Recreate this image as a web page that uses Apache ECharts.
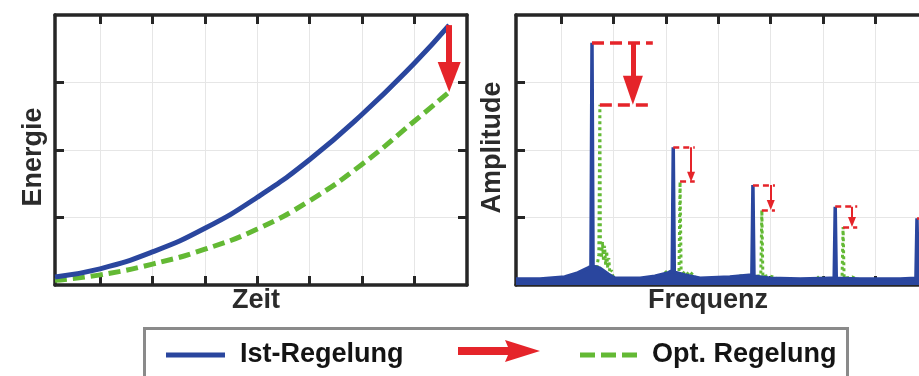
<!DOCTYPE html>
<html>
<head>
<meta charset="utf-8">
<script src="https://cdn.jsdelivr.net/npm/echarts@6/dist/echarts.min.js"></script>
<style>html,body{margin:0;padding:0;background:#fff}#c{width:919px;height:376px}</style>
</head>
<body>
<div id="c"></div>
<script>
// ---------- data ----------
// Left panel: Energie over Zeit
const zeit = [0.14, 1, 2, 3, 4, 5, 6, 7, 7.66];
const energieIst = [0.12, 0.24, 0.49, 0.84, 1.30, 1.86, 2.53, 3.29, 3.85];
const energieOpt = [0.07, 0.15, 0.31, 0.53, 0.83, 1.25, 1.79, 2.43, 2.86];

// Right panel: Amplitude spectrum [Frequenz, Amplitude]
const spektrumIst = [
  [0.14,0.09],[0.60,0.09],[1.07,0.12],[1.32,0.18],[1.51,0.25],[1.57,0.28],[1.59,3.59],[1.61,0.28],
  [1.74,0.25],[1.90,0.16],[2.03,0.10],[2.51,0.10],[2.79,0.13],[3.04,0.18],[3.12,0.21],[3.14,2.04],
  [3.16,0.19],[3.36,0.15],[3.65,0.10],[4.22,0.12],[4.64,0.15],[4.66,1.48],[4.68,0.13],[4.99,0.10],
  [5.56,0.09],[6.13,0.10],[6.21,0.10],[6.23,1.16],[6.25,0.10],[6.70,0.09],[7.47,0.09],[7.77,0.10],
  [7.79,0.99],[7.81,0.10],[8.00,0.09]
];
const spektrumOpt = [
  [0.14,0.07],[1.60,0.07],[1.66,0.12],[1.69,0.30],[1.72,0.45],[1.74,2.67],[1.75,0.60],[1.77,0.40],
  [1.79,0.64],[1.81,0.35],[1.83,0.58],[1.85,0.30],[1.87,0.50],[1.89,0.25],[1.91,0.40],[1.93,0.18],
  [1.96,0.22],[2.01,0.07],[2.85,0.07],[2.95,0.16],[3.05,0.22],
  [3.13,0.16],[3.25,0.20],[3.27,1.53],[3.29,0.22],[3.38,0.14],[3.45,0.20],[3.55,0.12],[3.70,0.07],
  [4.35,0.07],[4.42,0.14],[4.50,0.10],[4.81,0.14],[4.83,1.11],[4.85,0.12],[4.95,0.14],[5.05,0.12],
  [5.20,0.07],[5.85,0.07],[5.93,0.13],[6.05,0.07],[6.36,0.10],[6.38,0.86],[6.40,0.10],[6.55,0.12],
  [6.70,0.07],[7.91,0.07],[7.93,0.78],[7.95,0.07],[8.00,0.07]
];
// Peak annotations
const peakIstF = [1.59, 3.14, 4.66, 6.23, 7.79];
const peakIstA = [3.59, 2.04, 1.48, 1.16, 0.99];
const peakOptF = [1.74, 3.27, 4.83, 6.38, 7.93];
const peakOptA = [2.67, 1.53, 1.11, 0.86, 0.78];
const bracketEndF = [2.75, 3.55, 5.08, 6.65, 8.00];
const arrowF = [2.37, 3.48, 5.00, 6.55];

const xTicks = [1, 2, 3, 4, 5, 6, 7];
const yTicks = [1, 2, 3];
const xNames = ['Zeit', 'Frequenz'];
const yNames = ['Energie', 'Amplitude'];
const legendNames = ['Ist-Regelung', 'Pfeil', 'Opt. Regelung'];

// ---------- styling ----------
const FONT = '"Liberation Sans", Arial, Helvetica, sans-serif';
const INK = '#262626';
const BLUE = '#2a469e';
const GREEN = '#63b934';
const RED = '#e5242a';
const PX_PER_UNIT = 270 / 4;

const chart = echarts.init(document.getElementById('c'), null, {renderer: 'canvas'});

const grids = [
  {left: 55, top: 15, width: 412, height: 270, outerBoundsMode: 'none', containLabel: false},
  {left: 516, top: 15, width: 412, height: 270, outerBoundsMode: 'none', containLabel: false}
];
const nameStyle = (pad) => ({fontFamily: FONT, fontSize: 27, fontWeight: 'bold', color: '#2b2b2b', padding: pad});
const lineAx = {show: true, onZero: false, lineStyle: {color: INK, width: 3.5}};
const tickAx = (vals) => ({show: true, inside: true, length: 9, customValues: vals, lineStyle: {color: INK, width: 3}});

const xAxis = [], yAxis = [];
[0, 1].forEach(g => {
  xAxis.push({type: 'value', gridIndex: g, min: 0.14, max: 8, position: 'bottom',
    name: xNames[g], nameLocation: 'middle', nameGap: 2,
    nameTextStyle: nameStyle(g === 0 ? [0, 10, 0, 0] : [0, 28, 0, 0]),
    axisLine: lineAx, axisTick: tickAx(xTicks), axisLabel: {show: false},
    splitLine: {show: true, lineStyle: {color: '#e6e6e6', width: 1}}});
  xAxis.push({type: 'value', gridIndex: g, min: 0.14, max: 8, position: 'top',
    axisLine: lineAx, axisTick: tickAx(xTicks), axisLabel: {show: false}, splitLine: {show: false}});
  yAxis.push({type: 'value', gridIndex: g, min: 0, max: 4, position: 'left',
    name: yNames[g], nameLocation: 'middle', nameGap: g === 0 ? 8 : 10,
    nameTextStyle: nameStyle(g === 0 ? [0, 14, 0, 0] : [0, 0, 0, 5]),
    axisLine: lineAx, axisTick: tickAx(yTicks), axisLabel: {show: false},
    splitLine: {show: true, lineStyle: {color: '#e6e6e6', width: 1}}});
  yAxis.push({type: 'value', gridIndex: g, min: 0, max: 4, position: 'right',
    axisLine: lineAx, axisTick: tickAx(yTicks), axisLabel: {show: false}, splitLine: {show: false}});
});

// arrow helper: shaft from a to b (vertical), head tip exactly at b
function arrowItem(x, yFrom, yTo, width, headW, headL) {
  return [
    {coord: [x, yFrom], symbol: 'none', lineStyle: {color: RED, width: width, type: 'solid'}},
    {coord: [x, yTo + headL / 2 / PX_PER_UNIT], symbol: 'triangle', symbolSize: [headW, headL]}
  ];
}
function dashItem(x1, x2, y, width, dash) {
  return [
    {coord: [x1, y], symbol: 'none', lineStyle: {color: RED, width: width, type: dash}},
    {coord: [x2, y], symbol: 'none'}
  ];
}

const last = zeit.length - 1;
const leftArrow = [arrowItem(zeit[last], energieIst[last], energieOpt[last], 6, 23, 30)];

const bigMarks = [
  dashItem(peakIstF[0], bracketEndF[0], peakIstA[0], 3.5, [12, 6]),
  dashItem(peakOptF[0], bracketEndF[0], peakOptA[0], 3.5, [12, 6]),
  arrowItem(arrowF[0], peakIstA[0], peakOptA[0], 5, 20, 29)
];
const smallMarks = [];
for (let i = 1; i < peakIstF.length; i++) {
  smallMarks.push(dashItem(peakIstF[i], bracketEndF[i], peakIstA[i], 2.5, [6, 4]));
  if (i < arrowF.length) {
    smallMarks.push(dashItem(peakOptF[i], bracketEndF[i], peakOptA[i], 2.5, [6, 4]));
    smallMarks.push(arrowItem(arrowF[i], peakIstA[i], peakOptA[i], 2, 8, 10));
  }
}

const markBase = {silent: true, animation: false, symbol: ['none', 'none'], label: {show: false},
  emphasis: {disabled: true}};

const series = [
  {type: 'line', name: legendNames[0], xAxisIndex: 0, yAxisIndex: 0, smooth: true, symbol: 'none',
    data: zeit.map((x, i) => [x, energieIst[i]]), lineStyle: {color: BLUE, width: 5}, itemStyle: {color: BLUE}, z: 3},
  {type: 'line', name: legendNames[2], xAxisIndex: 0, yAxisIndex: 0, smooth: true, symbol: 'none',
    data: zeit.map((x, i) => [x, energieOpt[i]]), lineStyle: {color: GREEN, width: 5, type: [12, 6]}, itemStyle: {color: GREEN}, z: 2},
  {type: 'line', name: legendNames[1], xAxisIndex: 0, yAxisIndex: 0, data: [], itemStyle: {color: RED},
    markLine: Object.assign({}, markBase, {data: leftArrow}), z: 4},
  {type: 'line', name: legendNames[2], xAxisIndex: 2, yAxisIndex: 2, symbol: 'none',
    data: spektrumOpt, lineStyle: {color: GREEN, width: 3, type: [3, 3]}, itemStyle: {color: GREEN}, z: 2},
  {type: 'line', name: legendNames[0], xAxisIndex: 2, yAxisIndex: 2, symbol: 'none',
    data: spektrumIst, lineStyle: {color: BLUE, width: 3.5}, areaStyle: {color: BLUE, opacity: 1},
    itemStyle: {color: BLUE}, z: 3},
  {type: 'line', name: legendNames[1], xAxisIndex: 2, yAxisIndex: 2, data: [], itemStyle: {color: RED},
    markLine: Object.assign({}, markBase, {data: bigMarks.concat(smallMarks)}), z: 4}
];

const legTxt = {fontFamily: FONT, fontSize: 27, fontWeight: 'bold', color: '#141414', lineHeight: 30,
  rich: {s: {width: 10}}};
const legCommon = {orient: 'horizontal', top: 340, padding: 0, selectedMode: false,
  itemStyle: {borderWidth: 0}, textStyle: legTxt};

const option = {
  animation: false,
  backgroundColor: '#ffffff',
  grid: grids,
  xAxis: xAxis,
  yAxis: yAxis,
  series: series,
  legend: [
    Object.assign({}, legCommon, {left: 166, itemWidth: 59, itemHeight: 5,
      data: [{name: legendNames[0], icon: 'rect'}], formatter: n => '{s| }' + n}),
    Object.assign({}, legCommon, {left: 458, itemWidth: 82, itemHeight: 22,
      data: [{name: legendNames[1], icon: 'path://M0,7 L50,7 L47,0 L82,11 L47,22 L50,15 L0,15 Z'}],
      formatter: () => ''}),
    Object.assign({}, legCommon, {left: 580, itemWidth: 57, itemHeight: 5,
      data: [{name: legendNames[2], icon: 'path://M0,0 h15 v5 h-15 Z M21,0 h15 v5 h-15 Z M42,0 h15 v5 h-15 Z'}],
      formatter: n => '{s| }' + n})
  ],
  graphic: [
    {type: 'rect', silent: true, z: -1,
      shape: {x: 144.5, y: 328.5, width: 703, height: 70},
      style: {fill: 'none', stroke: '#8a8a8a', lineWidth: 3}}
  ]
};
chart.setOption(option);
</script>
</body>
</html>
